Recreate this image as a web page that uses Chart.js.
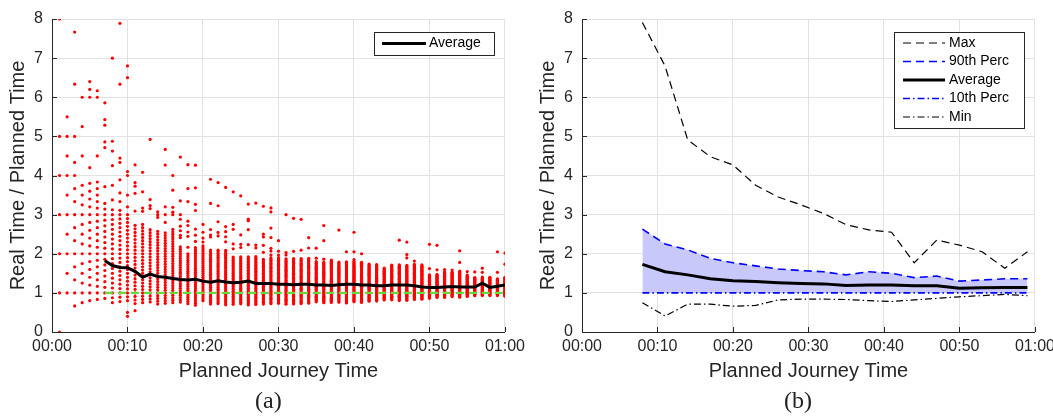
<!DOCTYPE html>
<html><head><meta charset="utf-8">
<script src="https://cdn.jsdelivr.net/npm/chart.js@4/dist/chart.umd.min.js"></script>
<style>
html,body{margin:0;padding:0;background:#fff}
body{width:1053px;height:416px;overflow:hidden;position:relative}
#wa{position:absolute;left:0;top:0;width:530px;height:416px}
#wb{position:absolute;left:530px;top:0;width:530px;height:416px}
.cap{position:absolute;top:386px;font-family:"Liberation Serif","DejaVu Serif",serif;font-size:24px;color:#222;line-height:28px}
</style></head><body>
<div id="wa"><canvas id="ca"></canvas></div>
<div id="wb"><canvas id="cb"></canvas></div>
<div class="cap" style="left:255px">(a)</div>
<div class="cap" style="left:784px">(b)</div>
<script>
// ---------- DATA (a): per planned minute, observed real journey minutes ----------
const plannedMin = [1,2,3,4,5,6,7,8,9,10,11,12,13,14,15,16,17,18,19,20,21,22,23,24,25,26,27,28,29,30,
  31,32,33,34,35,36,37,38,39,40,41,42,43,44,45,46,47,48,49,50,51,52,53,54,55,56,57,58,59,60];
const realLoMin = [0,2,2,3,4,5,6,6,7,8,8,9,10,10,11,12,13,13,13,16,15,16,16,17,18,18,19,20,21,22,
  22,23,24,25,27,27,28,29,29,31,31,33,34,36,37,37,38,40,41,43,45,46,48,48,50,52,53,54,55,55];
const realHiMin = [5,11,13,15,19,23,23,25,28,30,30,33,34,36,38,42,37,36,41,44,44,46,48,46,48,50,52,52,55,57,
  58,60,62,64,63,64,68,68,70,72,73,73,74,72,77,79,80,83,84,73,75,80,81,82,80,78,80,80,80,84];
const realOutlierMin = [
  [8],[],[15,19,23],[18,21,24],[21,30,31,32],[27,36,37],[26,33,34,37,38,41],[27,30,34,37,39,56],
  [30,32,35,39,40,57,71],[4,5,32,35,40,41,65,68],[6,34,39,41,42,47],[37,38,43,49],[41,42,44,64],[41,42,43],
  [42,45,48,64,70],[48,49,51,58,64],[41,42,44,46,49,51,57,76],[39,44,46,49,51,60,66,77],[44,47,50,59,62,70,81],
  [46,48,51,55],[51,52,55,69,82],[54,56,62,71,84],[53,56,59,62,85],[51,54,63,66,86],[54,56,62,87],
  [58,68,74,75,85],[58,60,89],[57,62,68,70,90],[57,60,62,70,77,89,92],[59,62,70],[61,63,93],[66,93],[69,95],
  [73,82],[66,75],[67,84,98],[],[99],[80],[74,82,102],[82],[],[],[],[],[108],[89,93,108],[87],[],
  [81,112],[81,113],[83],[84],[84,96,112],[85],[86],[87,93],[81],[90,121],[104,121]];
const avgX = [7,8,9,10,11,12,13,14,15,16,17,18,19,20,21,22,23,24,25,26,27,28,29,30,31,32,33,34,35,36,
  37,38,39,40,41,42,43,44,45,46,47,48,49,50,51,52,53,54,55,56,57,58,59,60];
const avgY = [1.82,1.70,1.65,1.64,1.55,1.40,1.48,1.42,1.40,1.37,1.34,1.33,1.35,1.30,1.27,1.31,1.28,1.26,1.27,1.30,
  1.24,1.24,1.24,1.22,1.22,1.21,1.22,1.22,1.20,1.20,1.19,1.21,1.22,1.22,1.20,1.20,1.18,1.18,1.20,1.20,
  1.20,1.18,1.15,1.14,1.14,1.15,1.16,1.15,1.15,1.15,1.25,1.14,1.17,1.20];
const refX = [7,60];
const refY = [1,1];

// ---------- DATA (b): binned statistics ----------
const binX = [8,11,14,17,20,23,26,29,32,35,38,41,44,47,50,53,56,59];
const maxY = [7.91,6.8,4.91,4.48,4.27,3.75,3.45,3.25,3.03,2.74,2.61,2.55,1.77,2.35,2.22,2.05,1.63,2.05];
const p90Y = [2.63,2.25,2.1,1.88,1.77,1.69,1.61,1.57,1.54,1.46,1.54,1.5,1.39,1.43,1.3,1.33,1.36,1.36];
const meanY = [1.73,1.54,1.46,1.36,1.31,1.29,1.26,1.24,1.23,1.19,1.2,1.2,1.18,1.18,1.12,1.13,1.14,1.14];
const p10Y = [1,1,1,1,1,1,1,1,1,1,1,1,1,1,1,1,1,1];
const minY = [0.75,0.41,0.71,0.71,0.66,0.68,0.82,0.84,0.84,0.83,0.8,0.78,0.82,0.86,0.9,0.93,0.96,0.93];

const xTicks = [0,10,20,30,40,50,60];
const yTicks = [0,1,2,3,4,5,6,7,8];

// ---------- build ----------
const pts = (xs, ys) => xs.map((x, i) => ({x, y: ys[i]}));
const scatter = [];
plannedMin.forEach((t, i) => {
  for (let k = realLoMin[i]; k <= realHiMin[i]; k++) scatter.push({x: t, y: k / t});
  realOutlierMin[i].forEach(k => scatter.push({x: t, y: k / t}));
});

Chart.defaults.font.family = '"Liberation Sans", Arial, Helvetica, sans-serif';
Chart.defaults.color = '#262626';
Chart.defaults.animation = false;

const fmt = v => { const h = Math.floor(v / 60), m = v % 60; return String(h).padStart(2,'0') + ':' + String(m).padStart(2,'0'); };

const inTicks = {
  id: 'inTicks',
  afterDatasetsDraw(chart) {
    const {ctx, chartArea: a, scales: {x, y}} = chart;
    ctx.save(); ctx.strokeStyle = '#262626'; ctx.lineWidth = 1; ctx.setLineDash([]);
    x.ticks.forEach(t => { const p = Math.round(x.getPixelForValue(t.value)) + 0.5;
      ctx.beginPath(); ctx.moveTo(p, a.bottom); ctx.lineTo(p, a.bottom - 5); ctx.stroke(); });
    y.ticks.forEach(t => { const p = Math.round(y.getPixelForValue(t.value)) + 0.5;
      ctx.beginPath(); ctx.moveTo(a.left, p); ctx.lineTo(a.left + 5, p); ctx.stroke(); });
    ctx.restore();
  }
};
const boxLegend = {
  id: 'boxLegend',
  afterDraw(chart, args, o) {
    if (!o || !o.items) return;
    const ctx = chart.ctx; ctx.save();
    ctx.fillStyle = '#fff'; ctx.fillRect(o.x, o.y, o.w, o.h);
    ctx.strokeStyle = '#262626'; ctx.lineWidth = 1; ctx.setLineDash([]);
    ctx.strokeRect(o.x + 0.5, o.y + 0.5, o.w, o.h);
    ctx.font = '14px "Liberation Sans", Arial, sans-serif'; ctx.textBaseline = 'middle';
    o.items.forEach((it, i) => {
      const yy = o.y + o.first + i * o.step;
      ctx.strokeStyle = it.color; ctx.lineWidth = it.width; ctx.setLineDash(it.dash || []);
      ctx.beginPath(); ctx.moveTo(o.x + o.lx0, yy); ctx.lineTo(o.x + o.lx1, yy); ctx.stroke();
      ctx.setLineDash([]); ctx.fillStyle = '#000'; ctx.fillText(it.label, o.x + o.tx, yy);
    });
    ctx.restore();
  }
};

function scales() {
  return {
    x: { type: 'linear', min: 0, max: 60, afterBuildTicks: s => { s.ticks = xTicks.map(v => ({value: v})); },
      ticks: { callback: v => fmt(v), font: {size: 16}, color: '#262626', padding: 5, maxRotation: 0, autoSkip: false },
      grid: { color: '#e2e2e2', drawTicks: false, lineWidth: 1 },
      border: { color: '#262626', width: 1 },
      title: { display: true, text: 'Planned Journey Time', font: {size: 20}, color: '#262626', padding: {top: 2, bottom: 33} },
      afterFit: s => { s.height = 84; } },
    y: { type: 'linear', min: 0, max: 8, afterBuildTicks: s => { s.ticks = yTicks.map(v => ({value: v})); },
      ticks: { font: {size: 16}, color: '#262626', padding: 9 },
      grid: { color: '#e2e2e2', drawTicks: false, lineWidth: 1 },
      border: { color: '#262626', width: 1 },
      title: { display: true, text: 'Real Time / Planned Time', font: {size: 20}, color: '#262626', padding: {top: 6, bottom: 0} },
      afterFit: s => { s.width = 52; } }
  };
}

new Chart(document.getElementById('ca'), {
  type: 'scatter',
  data: { datasets: [
    { type: 'line', label: 'Average', data: pts(avgX, avgY), borderColor: '#000', borderWidth: 3, pointRadius: 0, fill: false, tension: 0, order: 0 },
    { type: 'line', label: 'ref', data: pts(refX, refY), borderColor: '#62dc3c', borderWidth: 2.2, borderDash: [8, 5], pointRadius: 0, fill: false, order: 1 },
    { label: 'obs', data: scatter, backgroundColor: '#ff0000', borderWidth: 0, pointRadius: 1.6, pointHoverRadius: 1.6, order: 2 }
  ]},
  options: {
    responsive: true, maintainAspectRatio: false,
    layout: { padding: { top: 19, right: 23, left: 0, bottom: 0 } },
    scales: scales(),
    plugins: { legend: {display: false}, tooltip: {enabled: false},
      boxLegend: { x: 374, y: 32, w: 120, h: 23, first: 11.5, step: 18.5, lx0: 8, lx1: 52, tx: 55,
        items: [{label: 'Average', color: '#000', width: 3}] } }
  },
  plugins: [inTicks, boxLegend]
});

new Chart(document.getElementById('cb'), {
  type: 'line',
  data: { datasets: [
    { label: 'Max', data: pts(binX, maxY), borderColor: '#000', borderWidth: 1.2, borderDash: [8, 5], pointRadius: 0, fill: false },
    { label: '90th Perc', data: pts(binX, p90Y), borderColor: '#0000ff', borderWidth: 1.6, borderDash: [8, 5], pointRadius: 0, fill: 3, backgroundColor: 'rgb(200,200,250)' },
    { label: 'Average', data: pts(binX, meanY), borderColor: '#000', borderWidth: 3, pointRadius: 0, fill: false },
    { label: '10th Perc', data: pts(binX, p10Y), borderColor: '#0000ff', borderWidth: 1.6, borderDash: [7, 3, 1.5, 3], pointRadius: 0, fill: false },
    { label: 'Min', data: pts(binX, minY), borderColor: '#000', borderWidth: 1.2, borderDash: [7, 3, 1.5, 3], pointRadius: 0, fill: false }
  ]},
  options: {
    responsive: true, maintainAspectRatio: false,
    layout: { padding: { top: 19, right: 24, left: 0, bottom: 0 } },
    scales: scales(),
    plugins: { legend: {display: false}, tooltip: {enabled: false}, filler: { drawTime: 'beforeDatasetsDraw' },
      boxLegend: { x: 364, y: 32, w: 130, h: 96, first: 11, step: 18.5, lx0: 9, lx1: 51, tx: 55,
        items: [
          {label: 'Max', color: '#000', width: 1.2, dash: [8, 5]},
          {label: '90th Perc', color: '#0000ff', width: 1.4, dash: [8, 5]},
          {label: 'Average', color: '#000', width: 3},
          {label: '10th Perc', color: '#0000ff', width: 1.4, dash: [7, 3, 1.5, 3]},
          {label: 'Min', color: '#000', width: 1.2, dash: [7, 3, 1.5, 3]}
        ] } }
  },
  plugins: [inTicks, boxLegend]
});
</script>
</body></html>
